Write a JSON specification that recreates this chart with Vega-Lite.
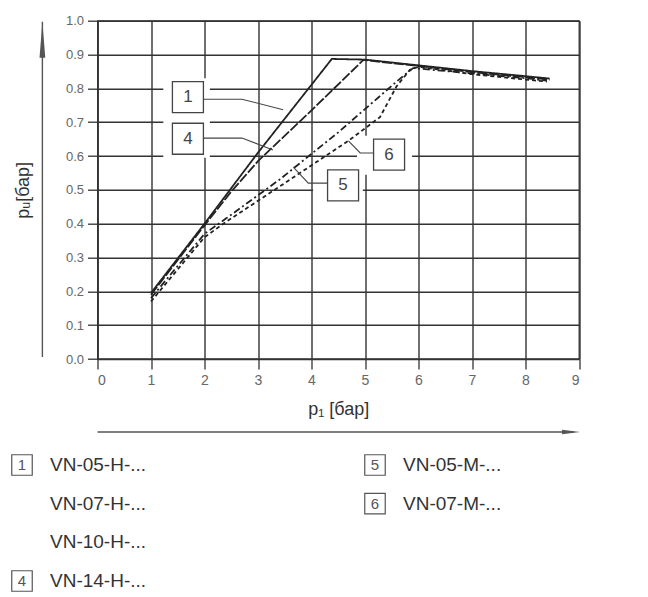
{
  "$schema": "https://vega.github.io/schema/vega-lite/v6.json",
  "width": 481.5,
  "height": 338.3,
  "autosize": {"type": "none"},
  "padding": {"left": 97.5, "top": 20.7, "right": 69, "bottom": 238},
  "background": "white",
  "config": {
    "view": {"stroke": "#3a3a3a", "strokeWidth": 1.3},
    "font": "Liberation Sans"
  },
  "datasets": {
    "curves": [
      {"series": "1", "p1": 1.0, "pu": 0.195}, {"series": "1", "p1": 2.0, "pu": 0.4}, {"series": "1", "p1": 3.0, "pu": 0.61},
      {"series": "1", "p1": 4.38, "pu": 0.887}, {"series": "1", "p1": 5.0, "pu": 0.885}, {"series": "1", "p1": 6.0, "pu": 0.868},
      {"series": "1", "p1": 7.0, "pu": 0.851}, {"series": "1", "p1": 8.0, "pu": 0.836}, {"series": "1", "p1": 8.45, "pu": 0.829},
      {"series": "4", "p1": 1.0, "pu": 0.19}, {"series": "4", "p1": 2.0, "pu": 0.395}, {"series": "4", "p1": 2.5, "pu": 0.495},
      {"series": "4", "p1": 3.0, "pu": 0.585}, {"series": "4", "p1": 4.0, "pu": 0.735}, {"series": "4", "p1": 4.97, "pu": 0.884},
      {"series": "4", "p1": 6.0, "pu": 0.866}, {"series": "4", "p1": 7.0, "pu": 0.848}, {"series": "4", "p1": 8.0, "pu": 0.833},
      {"series": "4", "p1": 8.45, "pu": 0.826},
      {"series": "5", "p1": 1.0, "pu": 0.18}, {"series": "5", "p1": 2.0, "pu": 0.37}, {"series": "5", "p1": 2.4, "pu": 0.415},
      {"series": "5", "p1": 3.4, "pu": 0.53}, {"series": "5", "p1": 4.5, "pu": 0.67}, {"series": "5", "p1": 5.59, "pu": 0.82},
      {"series": "5", "p1": 5.9, "pu": 0.86}, {"series": "5", "p1": 7.0, "pu": 0.844}, {"series": "5", "p1": 8.0, "pu": 0.83},
      {"series": "5", "p1": 8.4, "pu": 0.823},
      {"series": "6", "p1": 1.0, "pu": 0.17}, {"series": "6", "p1": 2.0, "pu": 0.36}, {"series": "6", "p1": 2.4, "pu": 0.405},
      {"series": "6", "p1": 3.5, "pu": 0.52}, {"series": "6", "p1": 4.69, "pu": 0.645}, {"series": "6", "p1": 5.28, "pu": 0.715},
      {"series": "6", "p1": 5.59, "pu": 0.806}, {"series": "6", "p1": 5.84, "pu": 0.855}, {"series": "6", "p1": 6.0, "pu": 0.864},
      {"series": "6", "p1": 7.0, "pu": 0.842}, {"series": "6", "p1": 8.0, "pu": 0.826}, {"series": "6", "p1": 8.4, "pu": 0.82}
    ],
    "labels": [
      {"label": "1", "p1": 1.69, "pu": 0.774},
      {"label": "4", "p1": 1.69, "pu": 0.651},
      {"label": "5", "p1": 4.59, "pu": 0.513},
      {"label": "6", "p1": 5.45, "pu": 0.604}
    ],
    "leaders": [
      {"label": "1", "seq": 1, "p1": 1.97, "pu": 0.768}, {"label": "1", "seq": 2, "p1": 2.7, "pu": 0.768}, {"label": "1", "seq": 3, "p1": 3.47, "pu": 0.737},
      {"label": "4", "seq": 1, "p1": 1.97, "pu": 0.653}, {"label": "4", "seq": 2, "p1": 2.7, "pu": 0.653}, {"label": "4", "seq": 3, "p1": 3.28, "pu": 0.618},
      {"label": "5", "seq": 1, "p1": 4.3, "pu": 0.52}, {"label": "5", "seq": 2, "p1": 3.94, "pu": 0.52}, {"label": "5", "seq": 3, "p1": 3.66, "pu": 0.567},
      {"label": "6", "seq": 1, "p1": 5.16, "pu": 0.609}, {"label": "6", "seq": 2, "p1": 4.91, "pu": 0.609}, {"label": "6", "seq": 3, "p1": 4.69, "pu": 0.645}
    ],
    "legend": [
      {"num": "1", "name": "VN-05-H-...", "col": "a", "row": 1},
      {"num": "", "name": "VN-07-H-...", "col": "a", "row": 2},
      {"num": "", "name": "VN-10-H-...", "col": "a", "row": 3},
      {"num": "4", "name": "VN-14-H-...", "col": "a", "row": 4},
      {"num": "5", "name": "VN-05-M-...", "col": "b", "row": 1},
      {"num": "6", "name": "VN-07-M-...", "col": "b", "row": 2}
    ],
    "one": [{}]
  },
  "layer": [
    {
      "encoding": {
        "x": {
          "type": "quantitative",
          "scale": {"domain": [0, 9], "nice": false, "zero": false},
          "axis": {
            "values": [0, 1, 2, 3, 4, 5, 6, 7, 8, 9],
            "grid": true, "gridColor": "#333", "gridWidth": 1.4, "gridOpacity": 1,
            "domainColor": "#333", "domainWidth": 1.4,
            "tickColor": "#333", "tickSize": 10, "tickWidth": 1.3,
            "labelColor": "#666", "labelFontSize": 14, "labelPadding": 4,
            "title": "p₁ [бар]", "titleFontSize": 18, "titleFontWeight": "normal", "titleColor": "#333", "titlePadding": 13
          }
        },
        "y": {
          "type": "quantitative",
          "scale": {"domain": [0, 1], "nice": false, "zero": false},
          "axis": {
            "values": [0, 0.1, 0.2, 0.3, 0.4, 0.5, 0.6, 0.7, 0.8, 0.9, 1.0],
            "format": ".1f",
            "grid": true, "gridColor": "#333", "gridWidth": 1.4, "gridOpacity": 1,
            "domainColor": "#333", "domainWidth": 1.4,
            "tickColor": "#333", "tickSize": 10, "tickWidth": 1.3,
            "labelColor": "#666", "labelFontSize": 13, "labelPadding": 4,
            "title": "pᵤ[бар]", "titleFontSize": 18, "titleFontWeight": "normal", "titleColor": "#333", "titlePadding": 33
          }
        }
      },
      "layer": [
        {
          "data": {"name": "one"},
          "mark": {"type": "rect", "fill": "white", "stroke": null},
          "encoding": {"x": {"datum": 1.23}, "x2": {"datum": 2.1}, "y": {"datum": 0.595}, "y2": {"datum": 0.83}}
        },
        {
          "data": {"name": "one"},
          "mark": {"type": "rect", "fill": "white", "stroke": null},
          "encoding": {"x": {"datum": 4.03}, "x2": {"datum": 4.96}, "y": {"datum": 0.455}, "y2": {"datum": 0.571}}
        },
        {
          "data": {"name": "one"},
          "mark": {"type": "rect", "fill": "white", "stroke": null},
          "encoding": {"x": {"datum": 4.85}, "x2": {"datum": 5.88}, "y": {"datum": 0.545}, "y2": {"datum": 0.66}}
        },
        {
          "data": {"name": "curves"},
          "mark": {"type": "line", "color": "#222", "strokeWidth": 1.8},
          "encoding": {
            "x": {"field": "p1", "type": "quantitative"},
            "y": {"field": "pu", "type": "quantitative"},
            "detail": {"field": "series"},
            "strokeDash": {
              "field": "series", "type": "nominal",
              "scale": {"domain": ["1", "4", "5", "6"], "range": [[1, 0], [10, 2], [7, 3, 2, 3], [4, 3]]},
              "legend": null
            }
          }
        },
        {
          "data": {"name": "leaders"},
          "mark": {"type": "line", "color": "#444", "strokeWidth": 1.1},
          "encoding": {
            "x": {"field": "p1", "type": "quantitative"},
            "y": {"field": "pu", "type": "quantitative"},
            "detail": {"field": "label"},
            "order": {"field": "seq"}
          }
        },
        {
          "data": {"name": "labels"},
          "mark": {"type": "point", "shape": "square", "size": 961, "filled": true, "fill": "white", "stroke": "#444", "strokeWidth": 1.3, "opacity": 1},
          "encoding": {
            "x": {"field": "p1", "type": "quantitative"},
            "y": {"field": "pu", "type": "quantitative"}
          }
        },
        {
          "data": {"name": "labels"},
          "mark": {"type": "text", "fontSize": 17, "color": "#444", "align": "center", "baseline": "middle"},
          "encoding": {
            "x": {"field": "p1", "type": "quantitative"},
            "y": {"field": "pu", "type": "quantitative"},
            "text": {"field": "label"}
          }
        },
        {
          "data": {"name": "one"},
          "mark": {"type": "rule", "color": "#555", "strokeWidth": 1.4},
          "encoding": {"x": {"datum": -1.03}, "y": {"datum": 0.006}, "y2": {"datum": 0.997}}
        },
        {
          "data": {"name": "one"},
          "mark": {"type": "rule", "color": "#555", "strokeWidth": 1.4},
          "encoding": {"x": {"datum": 0}, "x2": {"datum": 8.9}, "y": {"datum": -0.216}}
        },
        {
          "data": {"name": "one"},
          "mark": {"type": "point", "shape": "M0,-1L0.16,1L-0.16,1Z", "size": 1296, "filled": true, "color": "#555", "opacity": 1},
          "encoding": {"x": {"datum": -1.03}, "y": {"datum": 0.944}}
        },
        {
          "data": {"name": "one"},
          "mark": {"type": "point", "shape": "M1,0L-1,0.25L-1,-0.25Z", "size": 324, "filled": true, "color": "#555", "opacity": 1},
          "encoding": {"x": {"datum": 8.85}, "y": {"datum": -0.216}}
        }
      ]
    },
    {
      "data": {"name": "legend"},
      "encoding": {
        "x": {"field": "col", "type": "nominal", "scale": {"type": "point", "domain": ["a", "b"], "range": [-75.5, 277.5], "padding": 0}, "axis": null},
        "y": {"field": "row", "type": "ordinal", "scale": {"type": "point", "domain": [1, 2, 3, 4], "range": [444.3, 560.3], "padding": 0}, "axis": null}
      },
      "layer": [
        {
          "transform": [{"filter": "datum.num != ''"}],
          "mark": {"type": "point", "shape": "square", "size": 420, "filled": true, "fill": "white", "stroke": "#555", "strokeWidth": 1.2, "opacity": 1}
        },
        {
          "transform": [{"filter": "datum.num != ''"}],
          "mark": {"type": "text", "fontSize": 15, "color": "#555", "align": "center", "baseline": "middle"},
          "encoding": {"text": {"field": "num"}}
        },
        {
          "mark": {"type": "text", "fontSize": 19, "color": "#333", "align": "left", "baseline": "middle", "dx": 28},
          "encoding": {"text": {"field": "name"}}
        }
      ]
    }
  ],
  "resolve": {"scale": {"x": "independent", "y": "independent"}}
}
